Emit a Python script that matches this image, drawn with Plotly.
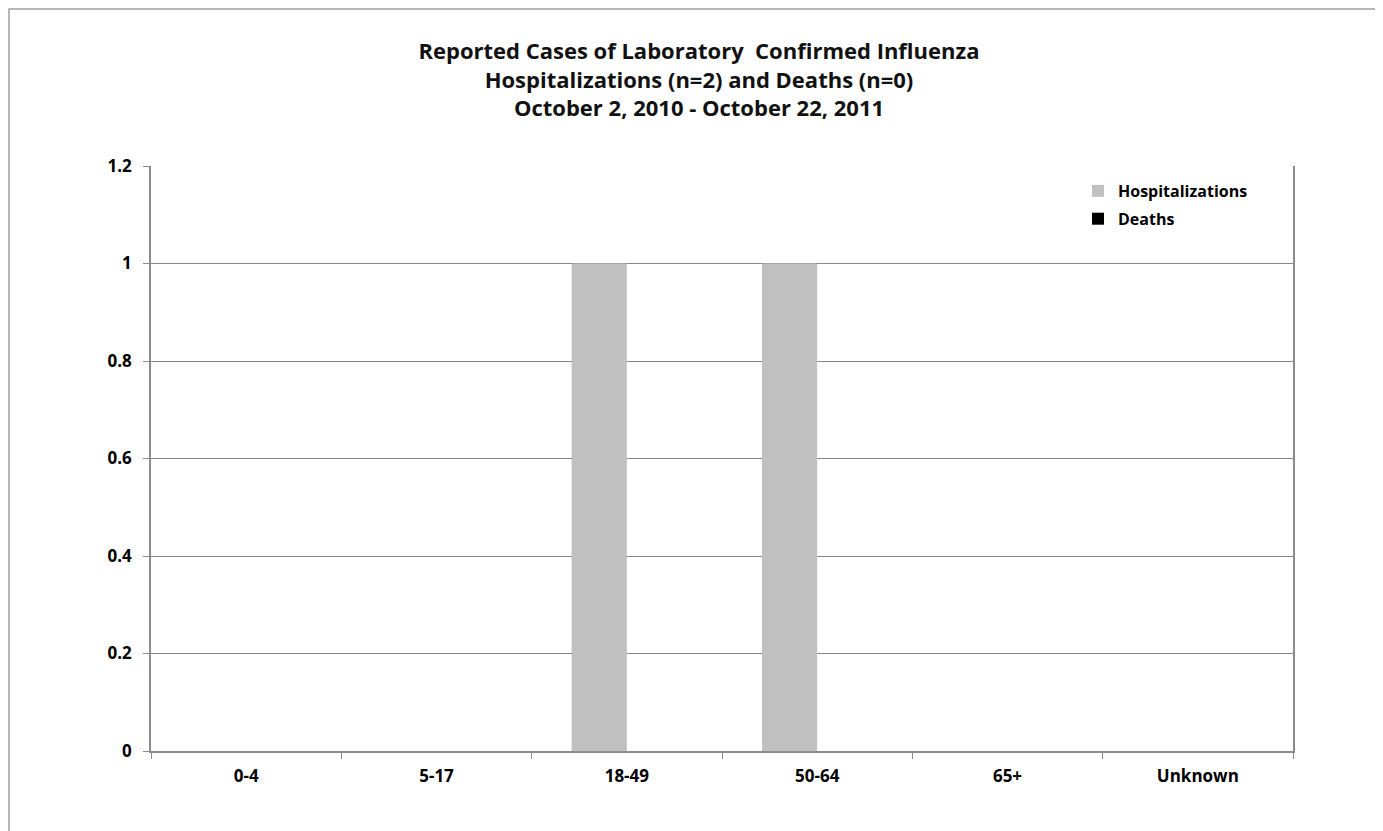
import plotly.graph_objects as go

categories = ["0-4", "5-17", "18-49", "50-64", "65+", "Unknown"]
hospitalizations = [0, 0, 1, 1, 0, 0]
deaths = [0, 0, 0, 0, 0, 0]

FONT = "Open Sans, Lato, sans-serif"

fig = go.Figure()
fig.add_trace(go.Bar(x=categories, y=hospitalizations, name="<b>Hospitalizations</b>",
                     marker=dict(color="#C0C0C0", line=dict(width=0)), legendgroup="h"))
fig.add_trace(go.Bar(x=categories, y=deaths, name="<b>Deaths</b>",
                     marker=dict(color="#000000", line=dict(width=0)), legendgroup="d"))

OFF = 8  # page body margin
W, H = 1383 - OFF, 831 - OFF
# plot area in screenshot pixels
L, R, T, B = 151, 1293, 166, 751
pw, ph = R - L, B - T

def px(x):
    return (x - L) / pw

def py(y):
    return (B - y) / ph

fig.update_layout(
    width=W, height=H,
    margin=dict(l=L - OFF, r=W - (R - OFF), t=T - OFF, b=H - (B - OFF), pad=0),
    paper_bgcolor="white", plot_bgcolor="white",
    barmode="group", bargap=0.42, bargroupgap=0,
    font=dict(family=FONT, size=16, color="#000000"),
    title=dict(
        text="<b>Reported Cases of Laboratory  Confirmed Influenza<br>Hospitalizations (n=2) and Deaths (n=0)<br>October 2, 2010 - October 22, 2011</b>",
        xref="container", x=(699 - OFF) / W, xanchor="center",
        y=1 - (59 - OFF) / H, yanchor="top",
        font=dict(family=FONT, size=22, color="#111111"),
    ),
    legend=dict(x=px(1078), y=py(174), xanchor="left", yanchor="top",
                font=dict(family=FONT, size=16, color="#000000"),
                bgcolor="rgba(0,0,0,0)", tracegroupgap=4, itemwidth=30,
                traceorder="grouped"),
    showlegend=True,
    xaxis=dict(
        type="category", showgrid=False, showline=True, linecolor="#8C8C8C", linewidth=1.5,
        ticks="outside", tickson="boundaries", ticklen=6, tickcolor="#8C8C8C",
        tickfont=dict(family=FONT, size=17, color="#000000"),
        tickprefix="<b>", ticksuffix="</b>", zeroline=False, ticklabelstandoff=9,
    ),
    yaxis=dict(
        range=[0, 1.2], dtick=0.2, tick0=0, showgrid=True, gridcolor="#878787", gridwidth=1,
        showline=True, linecolor="#8C8C8C", linewidth=1.5, mirror=True,
        ticks="outside", ticklen=6, tickcolor="#8C8C8C",
        tickfont=dict(family=FONT, size=17, color="#000000"),
        tickprefix="<b>", ticksuffix="</b>", zeroline=False, ticklabelstandoff=8,
    ),
)

fig.add_shape(type="rect", xref="paper", yref="paper",
              x0=px(9), x1=px(1381), y0=py(900), y1=py(9),
              line=dict(color="#A0A0A0", width=1.5), layer="below")

fig.write_html("out.html")
